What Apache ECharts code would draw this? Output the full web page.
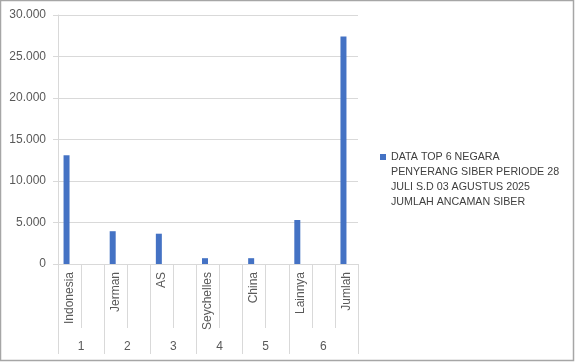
<!DOCTYPE html>
<html>
<head>
<meta charset="utf-8">
<script src="https://cdn.jsdelivr.net/npm/echarts@6/dist/echarts.min.js"></script>
<style>
html,body{margin:0;padding:0;background:#fff;}
#chart{width:575px;height:362px;}
</style>
</head>
<body>
<div id="chart"></div>
<script>
// Categories (blank rows between countries, as in the source sheet)
const categories = ['Indonesia', '', 'Jerman', '', 'AS', '', 'Seychelles', '', 'China', '', 'Lainnya', '', 'Jumlah'];
const values = [13100, null, 3950, null, 3650, null, 700, null, 700, null, 5300, null, 27400];
// Outer grouping level
const groupLabels = ['1', '2', '3', '4', '5', '6'];
const groupSizes = [2, 2, 2, 2, 2, 3];
const seriesName = 'DATA TOP 6 NEGARA\nPENYERANG SIBER PERIODE 28\nJULI S.D 03 AGUSTUS 2025\nJUMLAH ANCAMAN SIBER';
const yTicks = [0, 5000, 10000, 15000, 20000, 25000, 30000];

// Build half-slot axis for the group level (boundaryGap false -> points at half slots)
const halfSlots = [];
const boundaryIdx = [0];
let pos = 0;
for (let i = 0; i <= categories.length * 2; i++) halfSlots.push('');
groupSizes.forEach((s, i) => {
  const start = pos;
  pos += s * 2;
  halfSlots[start + s] = groupLabels[i];
  boundaryIdx.push(pos);
});

const fmt = v => String(v).replace(/\B(?=(\d{3})+(?!\d))/g, '.');
const FONT = 'Liberation Sans';
const chart = echarts.init(document.getElementById('chart'), null, {renderer: 'canvas'});
chart.setOption({
  animation: false,
  backgroundColor: '#ffffff',
  textStyle: {fontFamily: FONT},
  grid: {left: 58, right: 217, top: 15, bottom: 98, containLabel: false},
  legend: {
    data: [seriesName],
    left: 380,
    top: 149,
    padding: 0,
    itemWidth: 6,
    itemHeight: 51,
    icon: 'path://M0,0h6v6h-6zM0,51h0.01v0.01h-0.01z',
    textStyle: {fontFamily: FONT, fontSize: 10.7, color: '#404040', lineHeight: 15.3}
  },
  xAxis: [
    {
      type: 'category',
      data: categories,
      boundaryGap: true,
      axisLine: {show: true, lineStyle: {color: '#d9d9d9', width: 1}},
      axisTick: {show: true, length: 64, interval: 0, lineStyle: {color: '#d9d9d9'}},
      axisLabel: {interval: 0, rotate: 90, margin: 8, fontFamily: FONT, fontSize: 12, color: '#595959'},
      splitLine: {show: false}
    },
    {
      type: 'category',
      data: halfSlots,
      boundaryGap: false,
      position: 'bottom',
      offset: 0,
      axisLine: {show: false},
      axisTick: {show: true, length: 90, interval: (idx) => boundaryIdx.indexOf(idx) >= 0, lineStyle: {color: '#d9d9d9'}},
      axisLabel: {interval: (idx, val) => val !== '', margin: 77, fontFamily: FONT, fontSize: 12, color: '#595959'},
      splitLine: {show: false}
    }
  ],
  yAxis: {
    type: 'value',
    min: yTicks[0],
    max: yTicks[yTicks.length - 1],
    interval: yTicks[1] - yTicks[0],
    axisLine: {show: true, lineStyle: {color: '#d9d9d9'}},
    axisTick: {show: true, length: 5, lineStyle: {color: '#d9d9d9'}},
    axisLabel: {margin: 12, fontFamily: FONT, fontSize: 12, color: '#595959', formatter: fmt},
    splitLine: {show: true, lineStyle: {color: '#d9d9d9', width: 1}}
  },
  series: [
    {
      name: seriesName,
      type: 'bar',
      data: values,
      barWidth: 6,
      barGap: '0%',
      itemStyle: {color: '#4472c4'}
    },
    {
      name: 'blank',
      type: 'bar',
      data: [],
      barWidth: 6,
      barGap: '0%'
    }
  ],
  graphic: [{
    type: 'rect',
    shape: {x: 0.5, y: 0.5, width: 573, height: 360},
    style: {fill: 'none', stroke: '#a6a6a6', lineWidth: 1.5},
    silent: true,
    z: 100
  }]
});
</script>
</body>
</html>
